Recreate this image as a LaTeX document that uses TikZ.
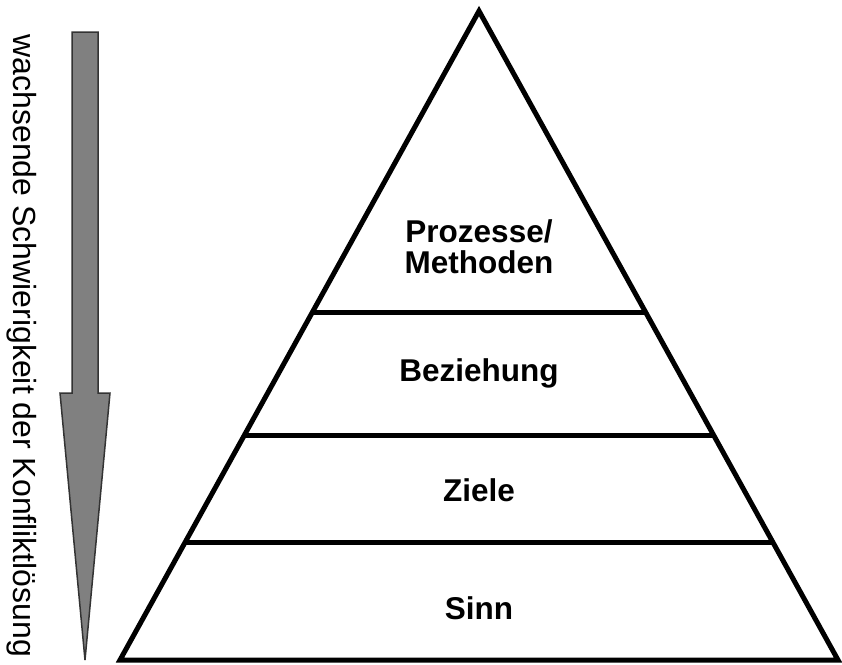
\documentclass[tikz,border=0pt]{standalone}
\usepackage{fontspec}
\setmainfont{Liberation Sans}
\usetikzlibrary{calc}
\begin{document}
\begin{tikzpicture}[x=1pt,y=-1pt,
  pyr/.style={line width=5pt, line join=miter},
  layer/.style={line width=5pt},
  lbl/.style={font=\fontsize{31.5}{31}\selectfont\bfseries, align=center, inner sep=0pt, anchor=base},
  side/.style={font=\fontsize{32}{38}\selectfont, inner sep=0pt, rotate=-90},
  arr/.style={fill=black!50, draw=black!80, line width=1.5pt, line join=miter}]
\useasboundingbox (0,0) rectangle (842,664);
% pyramid
\coordinate (A) at (479,11);
\coordinate (L) at (120,660);
\coordinate (R) at (838,660);
\draw[pyr] (A) -- (L) -- (R) -- cycle;
\coordinate (l1) at ($(A)!0.4653!(L)$);
\coordinate (r1) at ($(A)!0.4653!(R)$);
\coordinate (l2) at ($(A)!0.6533!(L)$);
\coordinate (r2) at ($(A)!0.6533!(R)$);
\coordinate (l3) at ($(A)!0.8182!(L)$);
\coordinate (r3) at ($(A)!0.8182!(R)$);
\draw[layer] (l1) -- (r1);
\draw[layer] (l2) -- (r2);
\draw[layer] (l3) -- (r3);
% labels
\node[lbl] (p) at (479,273) {Prozesse/\\Methoden};
\node[lbl] (b) at (479,381) {Beziehung};
\node[lbl] (z) at (479,501) {Ziele};
\node[lbl] (s) at (479,619) {Sinn};
% arrow
\draw[arr] (72,32) -- (98,32) -- (98,393) -- (110,393) -- (85,660) -- (60,393) -- (72,393) -- cycle;
\node[side] (t) at (22,346) {wachsende Schwierigkeit der Konfliktlösung};
\end{tikzpicture}
\end{document}
